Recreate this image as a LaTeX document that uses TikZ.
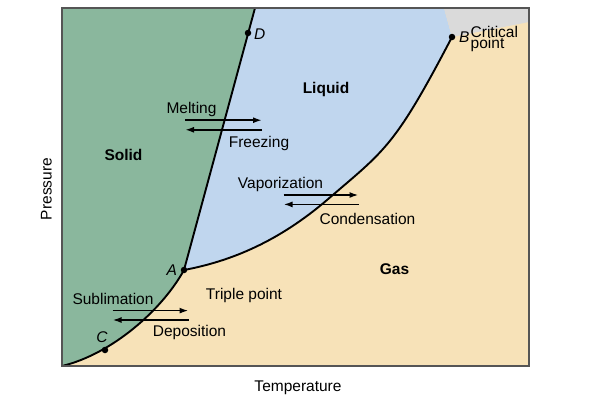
\documentclass[tikz,border=0pt]{standalone}
\usepackage{fontspec}
\setmainfont{Liberation Sans}
\usetikzlibrary{arrows.meta, positioning}
\usepackage{xcolor}

\definecolor{solidgreen}{RGB}{138,183,157}
\definecolor{liquidblue}{RGB}{192,214,238}
\definecolor{gasbeige}{RGB}{247,226,184}
\definecolor{critgray}{RGB}{218,218,218}
\definecolor{framegray}{RGB}{85,85,85}

\begin{document}
\begin{tikzpicture}[
        x=1pt, y=-1pt,
        every node/.style={font=\fontsize{15.5}{18}\selectfont},
        phase/.style={font=\fontsize{15.5}{18}\selectfont\bfseries, anchor=base},
        process/.style={anchor=base},
        axis/.style={anchor=base},
        ptlabel/.style={font=\fontsize{15.5}{18}\selectfont\itshape, inner sep=0pt},
        dot/.style={circle, fill, inner sep=0pt, minimum size=6.5pt},
        curve/.style={line width=1.9pt},
        arrow/.style={-{Latex[length=9pt,width=6pt]}, line width=1.7pt}
      ]

      \useasboundingbox (0,0) rectangle (600,400);

      % Corners and points of the diagram
      \coordinate (topleft) at (62,8);
      \coordinate (topright) at (529,8);
      \coordinate (botright) at (529,366);
      \coordinate (botleft) at (62,366);
      \coordinate (fusiontop) at (255,8);
      \coordinate (crittop) at (444,8);
      \coordinate (A) at (184,270);
      \coordinate (B) at (452,37);
      \coordinate (C) at (105,350);
      \coordinate (D) at (248,33);
      \coordinate (vapmid) at (327,200);

      % Phase regions
      \fill[gasbeige] (topleft) rectangle (botright);
      \fill[solidgreen] (topleft) -- (fusiontop) -- (A)
        .. controls (162,310) and (112,354) .. (botleft) -- cycle;
      \fill[liquidblue] (fusiontop) -- (A)
        .. controls (232,261) and (279,241) .. (vapmid)
        .. controls (385,150) and (394,148) .. (B) -- (crittop) -- cycle;
      \fill[critgray] (crittop) -- (topright) -- (529,22) -- (B) -- cycle;

      % Phase boundaries
      \draw[curve] (fusiontop) -- (A);
      \draw[curve] (botleft) .. controls (112,354) and (162,310) .. (A);
      \draw[curve] (A) .. controls (232,261) and (279,241) .. (vapmid)
        .. controls (385,150) and (394,148) .. (B);

      % Frame
      \draw[framegray, line width=1.5pt] (topleft) rectangle (botright);

      % Points
      \node[dot] (dotA) at (A) {};
      \node[dot] (dotB) at (B) {};
      \node[dot] (dotC) at (C) {};
      \node[dot] (dotD) at (D) {};

      \node[ptlabel, left=3.5pt of dotA] (labelA) {A};
      \node[ptlabel, right=3.5pt of dotB] (labelB) {B};
      \node[ptlabel, above=3.5pt of dotC, xshift=-3pt] (labelC) {C};
      \node[ptlabel, right=2.5pt of dotD, yshift=-1.5pt] (labelD) {D};
      \node[inner sep=0pt, anchor=north west, align=left,
        font=\fontsize{15.5}{11.5}\selectfont] (critical) at (470.5,25.8) {Critical\\point};

      % Phase names
      \node[phase] (solid) at (123.5,160.7) {Solid};
      \node[phase] (liquid) at (326,93.5) {Liquid};
      \node[phase] (gas) at (394.5,274) {Gas};
      \node[process] (triple) at (244,299.3) {Triple point};

      % Transitions
      \coordinate (meltL) at (185,125);
      \coordinate (meltR) at (262,125);
      \coordinate (vapL) at (283.5,199.7);
      \coordinate (vapR) at (358.5,199.7);
      \coordinate (subL) at (112.5,315.3);
      \coordinate (subR) at (188.5,315.3);

      \draw[arrow] ([yshift=4.8pt]meltL) -- ([yshift=4.8pt]meltR);
      \draw[arrow] ([yshift=-4.8pt]meltR) -- ([yshift=-4.8pt]meltL);
      \draw[arrow] ([yshift=4.7pt]vapL) -- ([yshift=4.7pt]vapR);
      \draw[arrow] ([yshift=-4.7pt]vapR) -- ([yshift=-4.7pt]vapL);
      \draw[arrow] ([yshift=4.7pt]subL) -- ([yshift=4.7pt]subR);
      \draw[arrow] ([yshift=-4.7pt]subR) -- ([yshift=-4.7pt]subL);

      \node[process] (melting) at (191.5,113.3) {Melting};
      \node[process] (freezing) at (259,147.3) {Freezing};
      \node[process] (vaporization) at (280.5,188.3) {Vaporization};
      \node[process] (condensation) at (367.5,224) {Condensation};
      \node[process] (sublimation) at (113,304.3) {Sublimation};
      \node[process] (deposition) at (189.5,336.7) {Deposition};

      % Axes
      \node[axis] (temperature) at (298,391) {Temperature};
      \node[axis, rotate=90] (pressure) at (51.7,189) {Pressure};

    \end{tikzpicture}
\end{document}
